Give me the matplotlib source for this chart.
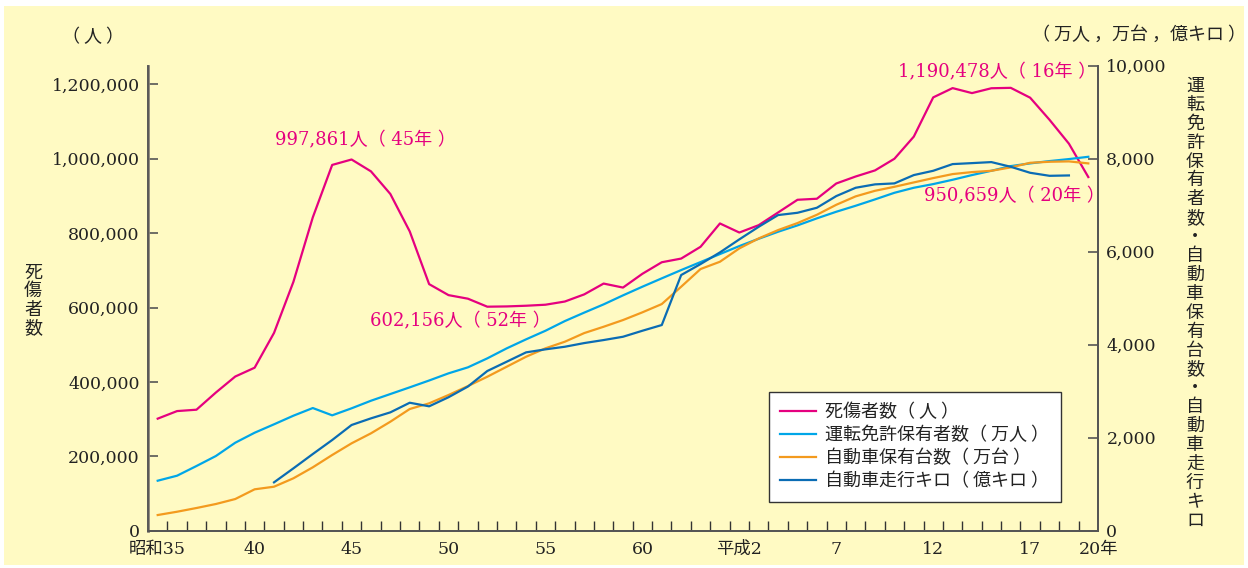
import matplotlib.pyplot as plt
from matplotlib.patches import Rectangle

# data: 昭和35 (1960) - 平成20 (2008)
years = list(range(1960, 2009))
casualties = [301211, 321562, 325258, 371390, 414435, 438150, 531679, 668995,
              842327, 983257, 997861, 965967, 905116, 804522, 662852, 633259,
              623691, 602156, 602899, 604748, 607479, 616065, 635265, 664342,
              653583, 690607, 721647, 731526, 763189, 825918, 801522, 821354,
              855454, 889575, 892372, 933361, 952146, 968565, 999887, 1059405,
              1164773, 1189786, 1176355, 1189383, 1190478, 1163984, 1104551,
              1040396, 950659]
licence = [1075, 1183, 1391, 1606, 1892, 2107, 2288, 2473, 2638, 2481, 2632,
           2795, 2939, 3083, 3230, 3384, 3513, 3706, 3921, 4115, 4300, 4508,
           4690, 4867, 5061, 5247, 5427, 5605, 5777, 5949, 6121, 6278, 6429,
           6566, 6717, 6859, 6988, 7125, 7267, 7375, 7454, 7547, 7648, 7740,
           7841, 7899, 7949, 7992, 8041]
vehicles = [337, 408, 488, 574, 681, 890, 946, 1127, 1363, 1628, 1879, 2094,
            2344, 2617, 2739, 2918, 3110, 3311, 3526, 3741, 3922, 4064, 4250,
            4386, 4530, 4696, 4874, 5247, 5627, 5784, 6071, 6286, 6465, 6616,
            6794, 7009, 7190, 7310, 7396, 7490, 7583, 7669, 7712, 7740, 7813,
            7912, 7934, 7942, 7899]
km_years = list(range(1966, 2008))
km = [1040, 1341, 1649, 1950, 2273, 2416, 2545, 2752, 2675, 2870, 3100, 3434,
      3634, 3835, 3900, 3956, 4035, 4100, 4171, 4300, 4423, 5498, 5734, 5985,
      6265, 6536, 6788, 6837, 6945, 7196, 7375, 7448, 7469, 7648, 7740, 7884,
      7905, 7927, 7826, 7697, 7632, 7640]

xlab_years = [1960, 1965, 1970, 1975, 1980, 1985, 1990, 1995, 2000, 2005]
xlab_text = ['昭和35', '40', '45', '50', '55', '60', '平成2', '7', '12', '17']
left_ticks = [0, 200000, 400000, 600000, 800000, 1000000, 1200000]
right_ticks = [0, 2000, 4000, 6000, 8000, 10000]

series_names = ['死傷者数（ 人 ）', '運転免許保有者数（ 万人 ）',
                '自動車保有台数（ 万台 ）', '自動車走行キロ（ 億キロ ）']

pink = '#e5007f'
cyan = '#00a6e8'
orange = '#f39a1e'
blue = '#0a6cb4'
bg = '#fffac3'
ink = '#222222'
num_font = ['DejaVu Serif', 'Noto Sans CJK JP']
jp_font = ['Noto Sans CJK JP', 'DejaVu Sans']

W, H = 1248, 568
fig = plt.figure(figsize=(W / 100, H / 100), dpi=100, facecolor='white')
fig.patches.append(Rectangle((4 / W, 3 / H), 1240 / W, 559 / H,
                             transform=fig.transFigure, facecolor=bg,
                             edgecolor='none', zorder=-10))

ax = fig.add_axes([148 / W, 1 - 530.7 / H, 950 / W, 465 / H])
ax.set_facecolor('none')
ax2 = ax.twinx()

ax.set_xlim(1959.5, 2008.5)
ax.set_ylim(0, 1250000)
ax2.set_ylim(0, 10000)

l1, = ax.plot(years, casualties, color=pink, lw=1.6, zorder=5)
l2, = ax2.plot(years, licence, color=cyan, lw=1.6)
l3, = ax2.plot(years, vehicles, color=orange, lw=1.6)
l4, = ax2.plot(km_years, km, color=blue, lw=1.6)

for a in (ax, ax2):
    a.spines['top'].set_visible(False)
    for s in ('left', 'right', 'bottom'):
        a.spines[s].set_color('#555555')
        a.spines[s].set_linewidth(1.3)
ax.spines['left'].set_color('#8a8478')
ax.spines['left'].set_linewidth(2)

ax.set_yticks(left_ticks)
ax.set_yticklabels([f'{v:,}' for v in left_ticks], family=num_font,
                   fontsize=12.5, color=ink)
ax.tick_params(axis='y', direction='in', length=7, width=1.2,
               color='#555555', pad=6)
ax2.set_yticks(right_ticks)
ax2.set_yticklabels([f'{v:,}' for v in right_ticks], family=num_font,
                    fontsize=12.5, color=ink)
ax2.tick_params(axis='y', direction='in', length=7, width=1.2,
                color='#555555', pad=6)

ax.set_xticks([])
ax.set_xticks([y + 0.5 for y in range(1960, 2008)], minor=True)
ax.tick_params(axis='x', which='minor', direction='in', length=7,
               width=1, color='#333333')

xt = ax.get_xaxis_transform()
for yr, t in zip(xlab_years, xlab_text):
    ax.text(yr, -0.04, t, transform=xt, ha='center', va='center',
            family=num_font, fontsize=12.5, color=ink)
ax.annotate('20年', xy=(2008, -0.04), xycoords=xt, xytext=(-7, 0),
            textcoords='offset points', ha='left', va='center',
            family=num_font, fontsize=12.5, color=ink)

# peak / trough labels
notes = [(1970.7, 1050000, '997,861人（ 45年 ）'),
         (1975.6, 562000, '602,156人（ 52年 ）'),
         (2003.3, 1231000, '1,190,478人（ 16年 ）'),
         (2004.2, 898000, '950,659人（ 20年 ）')]
for x, y, t in notes:
    ax.text(x, y, t, ha='center', va='center', color=pink,
            family=num_font, fontsize=13, zorder=6)

# unit labels
fig.text(93 / W, 1 - 37 / H, '（ 人 ）', ha='center', va='center',
         family=jp_font, fontsize=13, color=ink)
fig.text(1139 / W, 1 - 35 / H, '（ 万人 ，万台 ，億キロ ）', ha='center',
         va='center', family=jp_font, fontsize=13, color=ink)

# vertical axis titles, one character per row
for i, ch in enumerate('死傷者数'):
    fig.text(33 / W, 1 - (273 + i * 18.3) / H, ch, ha='center', va='center',
             family=jp_font, fontsize=13, color=ink)
for i, ch in enumerate('運転免許保有者数・自動車保有台数・自動車走行キロ'):
    fig.text(1195 / W, 1 - (86 + i * 18.9) / H, ch, ha='center',
             va='center', family=jp_font, fontsize=13, color=ink)

leg = ax2.legend([l1, l2, l3, l4], series_names, loc='upper left',
                 bbox_to_anchor=(769 / W, 1 - 392 / H),
                 bbox_transform=fig.transFigure, frameon=True,
                 fancybox=False, framealpha=1,
                 prop={'family': jp_font, 'size': 13},
                 handlelength=2.0, handletextpad=0.5, labelspacing=0.28,
                 borderpad=0.62, borderaxespad=0)
leg.get_frame().set_edgecolor('#333333')
leg.get_frame().set_facecolor('white')
leg.get_frame().set_linewidth(1)
for t in leg.get_texts():
    t.set_color(ink)

fig.savefig('out.png', dpi=100, facecolor='white')
